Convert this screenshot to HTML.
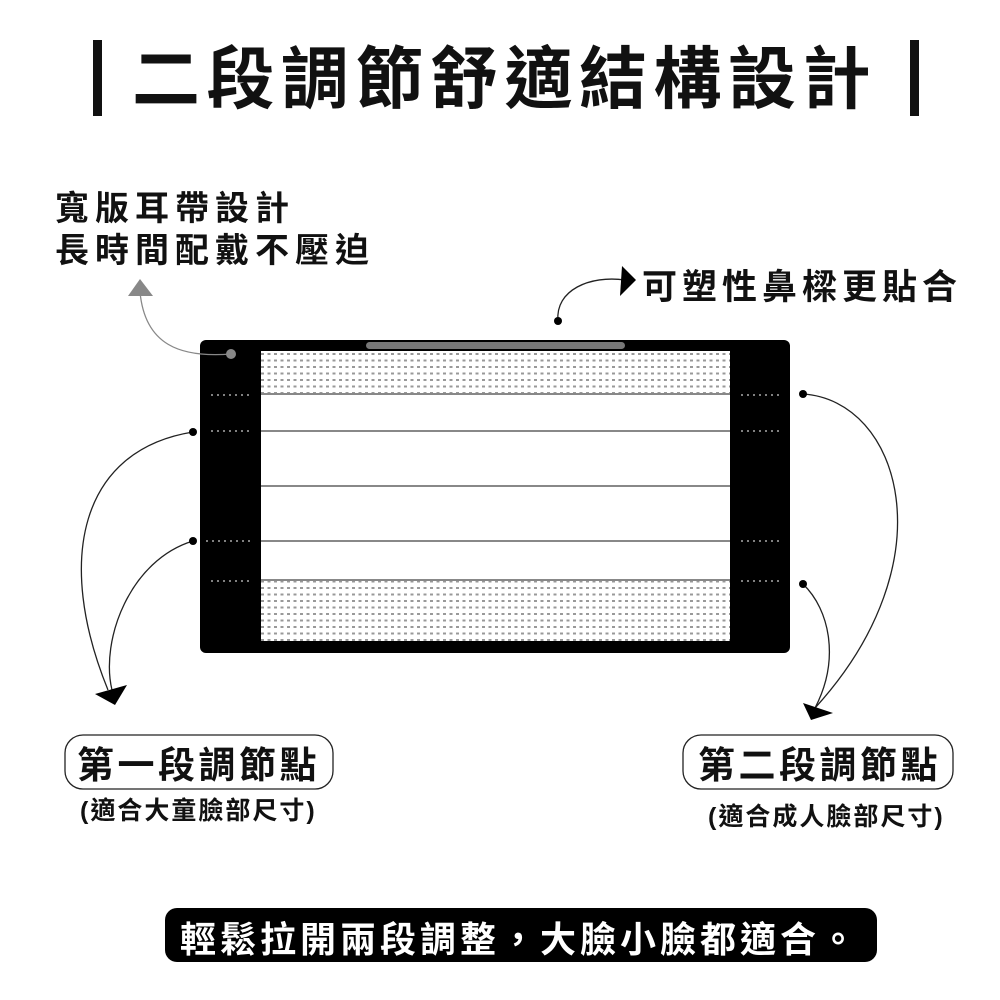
<!DOCTYPE html>
<html><head><meta charset="utf-8"><style>
body{margin:0;width:1000px;height:1000px;background:#fff;overflow:hidden;position:relative;font-family:"Liberation Sans","Noto Sans CJK TC",sans-serif;font-weight:bold;color:#111}
.t{position:absolute;white-space:nowrap}
</style></head><body>
<svg width="1000" height="1000" style="position:absolute;left:0;top:0">
<defs>
<pattern id="dp" width="6.5" height="6.5" patternUnits="userSpaceOnUse">
<rect x="1" y="2" width="3" height="2" fill="#999"/>
</pattern>
</defs>
<rect x="93" y="40" width="9" height="76" fill="#111"/>
<rect x="910" y="40" width="9" height="76" fill="#111"/>
<rect x="200" y="340" width="590" height="313" rx="6" fill="#000"/>
<rect x="366" y="342" width="259" height="7" rx="3.5" fill="#777"/>
<rect x="261" y="351" width="469" height="290" fill="#fff"/>
<rect x="261" y="351" width="469" height="42" fill="url(#dp)"/>
<rect x="261" y="581" width="469" height="60" fill="url(#dp)"/>
<g stroke="#888" stroke-width="2">
<line x1="261" y1="394" x2="730" y2="394"/>
<line x1="261" y1="431" x2="730" y2="431"/>
<line x1="261" y1="486" x2="730" y2="486"/>
<line x1="261" y1="541" x2="730" y2="541"/>
<line x1="261" y1="580" x2="730" y2="580"/>
</g>
<g stroke="#fff" stroke-width="1" stroke-dasharray="2,4">
<line x1="211" y1="395" x2="250" y2="395"/><line x1="211" y1="431" x2="250" y2="431"/>
<line x1="206" y1="541" x2="250" y2="541"/><line x1="211" y1="581" x2="250" y2="581"/>
<line x1="741" y1="395" x2="780" y2="395"/><line x1="741" y1="431" x2="780" y2="431"/>
<line x1="741" y1="541" x2="780" y2="541"/><line x1="741" y1="581" x2="780" y2="581"/>
</g>
<g fill="none" stroke="#222" stroke-width="1.3">
<path d="M193 432 C 80 450, 55 560, 108 690"/>
<path d="M193 541 C 130 560, 100 640, 112 690"/>
<path d="M803 394 C 900 400, 950 560, 815 708"/>
<path d="M803 584 C 830 610, 840 660, 815 708"/>
<path d="M558 321 C 555 290, 590 275, 625 280"/>
</g>
<path d="M231 354 C 180 358, 145 345, 140 292" fill="none" stroke="#888" stroke-width="1.3"/>
<polygon points="140,279 128,296 153,296" fill="#888"/>
<circle cx="231" cy="354" r="5" fill="#888"/>
<circle cx="193" cy="432" r="4" fill="#000"/>
<circle cx="193" cy="541" r="4" fill="#000"/>
<circle cx="803" cy="394" r="4" fill="#000"/>
<circle cx="803" cy="584" r="4" fill="#000"/>
<circle cx="558" cy="321" r="4" fill="#000"/>
<polygon points="95,694 127,685 115,705" fill="#000"/>
<polygon points="803,703 833,713 811,720" fill="#000"/>
<polygon points="622,266 636,280 620,296" fill="#000"/>
<rect x="65" y="735" width="268" height="54" rx="18" fill="none" stroke="#222" stroke-width="1.3"/>
<rect x="683" y="735" width="270" height="54" rx="18" fill="none" stroke="#222" stroke-width="1.3"/>
<rect x="165" y="908" width="712" height="54" rx="12" fill="#000"/>
</svg>
<div class="t" style="left:132px;top:24px;font-size:68px;letter-spacing:6.5px">二段調節舒適結構設計</div>
<div class="t" style="left:55px;top:188px;font-size:34px;line-height:42px;letter-spacing:6px">寬版耳帶設計<br>長時間配戴不壓迫</div>
<div class="t" style="left:642px;top:259px;font-size:35px;letter-spacing:5px">可塑性鼻樑更貼合</div>
<div class="t" style="left:77px;top:735px;font-size:37px;letter-spacing:3.5px">第一段調節點</div>
<div class="t" style="left:80px;top:791px;font-size:25px;letter-spacing:2px">(適合大童臉部尺寸)</div>
<div class="t" style="left:698px;top:735px;font-size:37px;letter-spacing:3.5px">第二段調節點</div>
<div class="t" style="left:708px;top:797px;font-size:25px;letter-spacing:2px">(適合成人臉部尺寸)</div>
<div class="t" style="left:180px;top:911px;font-size:36px;color:#fff;letter-spacing:4px">輕鬆拉開兩段調整，大臉小臉都適合。</div>
</body></html>
